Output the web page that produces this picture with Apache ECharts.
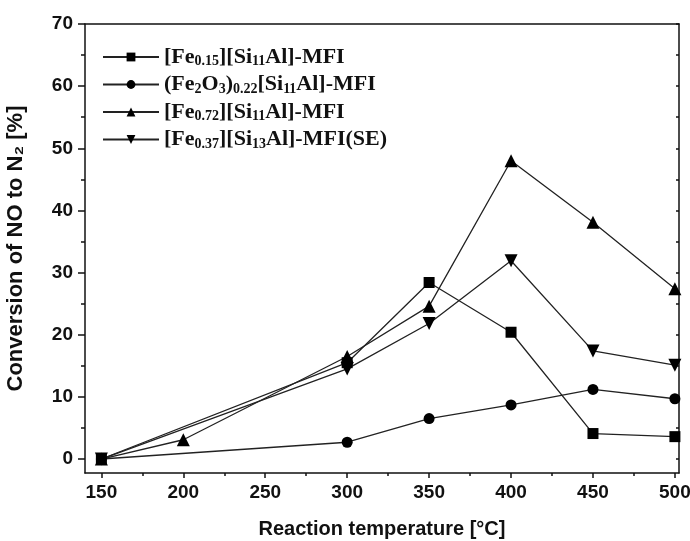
<!DOCTYPE html>
<html>
<head>
<meta charset="UTF-8">
<title>Conversion of NO to N2</title>
<script src="https://cdn.jsdelivr.net/npm/echarts@6/dist/echarts.min.js"></script>
<style>
  html, body { margin: 0; padding: 0; background: #fff; }
  #chart { width: 690px; height: 541px; }
</style>
</head>
<body>
<div id="chart"></div>
<script>
// temperatures [°C]
var tempsA = [150, 300, 350, 400, 450, 500];
var tempsC = [150, 200, 300, 350, 400, 450, 500];
// conversion values [%]
var fe015 = [0, 15.5, 28.4, 20.4, 4.1, 3.6];
var fe2o3 = [0, 2.7, 6.5, 8.7, 11.2, 9.7];
var fe072 = [0, 3.1, 16.5, 24.6, 48.0, 38.1, 27.4];
var fe037 = [0, 14.5, 21.8, 31.9, 17.4, 15.1];
var xMajor = [150, 200, 250, 300, 350, 400, 450, 500];
var xMinor = [175, 225, 275, 325, 375, 425, 475];
var yMajor = [0, 10, 20, 30, 40, 50, 60, 70];
var yMinor = [5, 15, 25, 35, 45, 55, 65];

var names = ['s1', 's2', 's3', 's4'];
var labels = {
  s1: '[Fe{sub|0.15}][Si{sub|11}Al]-MFI',
  s2: '(Fe{sub|2}O{sub|3}){sub|0.22}[Si{sub|11}Al]-MFI',
  s3: '[Fe{sub|0.72}][Si{sub|11}Al]-MFI',
  s4: '[Fe{sub|0.37}][Si{sub|13}Al]-MFI(SE)'
};

function pairs(xs, ys) {
  var out = [];
  for (var i = 0; i < xs.length; i++) out.push([xs[i], ys[i]]);
  return out;
}

var axisFont = { fontFamily: '"Liberation Sans", Arial, sans-serif', fontWeight: 'bold', fontSize: 19, color: '#111' };
var lineStyle = { color: '#111', width: 1.5 };

function mkSeries(name, data, symbol, size, rotate) {
  return {
    name: name, type: 'line', data: data,
    symbol: symbol, symbolSize: size, symbolRotate: rotate || 0,
    lineStyle: { color: '#222', width: 1.3 },
    itemStyle: { color: '#000' },
    animation: false, z: 3
  };
}

var chart = echarts.init(document.getElementById('chart'));
chart.setOption({
  backgroundColor: '#fff',
  animation: false,
  grid: { left: 85, top: 24, right: 11, bottom: 68, containLabel: false, outerBoundsMode: 'none' },
  legend: {
    orient: 'vertical', left: 97, top: 41,
    itemWidth: 56, itemHeight: 11, itemGap: 5,
    data: names,
    formatter: function (n) { return labels[n]; },
    textStyle: {
      fontFamily: '"Liberation Serif", "Times New Roman", serif', fontWeight: 'bold',
      fontSize: 22, color: '#111', lineHeight: 22,
      rich: {
        sub: { fontFamily: '"Liberation Serif", serif', fontWeight: 'bold', fontSize: 14, color: '#111', padding: [9, 0, 0, 0] }
      }
    }
  },
  xAxis: [{
    type: 'value', min: 140, max: 502.5, position: 'bottom',
    name: 'Reaction temperature [°C]', nameLocation: 'middle', nameGap: 46,
    nameTextStyle: { fontFamily: 'Liberation Sans, Arial, sans-serif', fontWeight: 'bold', fontSize: 20, color: '#111' },
    axisLine: { onZero: false, lineStyle: lineStyle },
    axisTick: { show: true, inside: false, length: 5, lineStyle: lineStyle, customValues: xMajor },
    axisLabel: Object.assign({ customValues: xMajor, margin: 10 }, axisFont),
    splitLine: { show: false }
  }, {
    type: 'value', min: 140, max: 502.5, position: 'bottom',
    axisLine: { show: false, onZero: false },
    axisTick: { show: true, length: 3, lineStyle: lineStyle, customValues: xMinor },
    axisLabel: { show: false }, splitLine: { show: false }
  }, {
    type: 'value', min: 140, max: 502.5, position: 'top',
    axisLine: { show: true, onZero: false, lineStyle: lineStyle },
    axisTick: { show: false }, axisLabel: { show: false }, splitLine: { show: false }
  }],
  yAxis: [{
    type: 'value', min: -2.25, max: 70, position: 'left',
    name: 'Conversion of NO to N₂ [%]', nameLocation: 'middle', nameGap: 58, nameRotate: 90,
    nameTextStyle: { fontFamily: 'Liberation Sans, Arial, sans-serif', fontWeight: 'bold', fontSize: 22, color: '#111' },
    axisLine: { show: true, onZero: false, lineStyle: lineStyle },
    axisTick: { show: true, length: 7, lineStyle: lineStyle, customValues: yMajor },
    axisLabel: Object.assign({ customValues: yMajor, margin: 12 }, axisFont),
    splitLine: { show: false }
  }, {
    type: 'value', min: -2.25, max: 70, position: 'left',
    axisLine: { show: false, onZero: false },
    axisTick: { show: true, length: 4, lineStyle: lineStyle, customValues: yMinor },
    axisLabel: { show: false }, splitLine: { show: false }
  }, {
    type: 'value', min: -2.25, max: 70, position: 'right',
    axisLine: { show: true, onZero: false, lineStyle: lineStyle },
    axisTick: { show: true, inside: true, length: 3, lineStyle: lineStyle, customValues: yMajor.concat(yMinor) },
    axisLabel: { show: false }, splitLine: { show: false }
  }],
  series: [
    mkSeries('s1', pairs(tempsA, fe015), 'rect', 11),
    mkSeries('s2', pairs(tempsA, fe2o3), 'circle', 11),
    mkSeries('s3', pairs(tempsC, fe072), 'triangle', 13),
    mkSeries('s4', pairs(tempsA, fe037), 'triangle', 13, 180)
  ]
});
</script>
</body>
</html>
